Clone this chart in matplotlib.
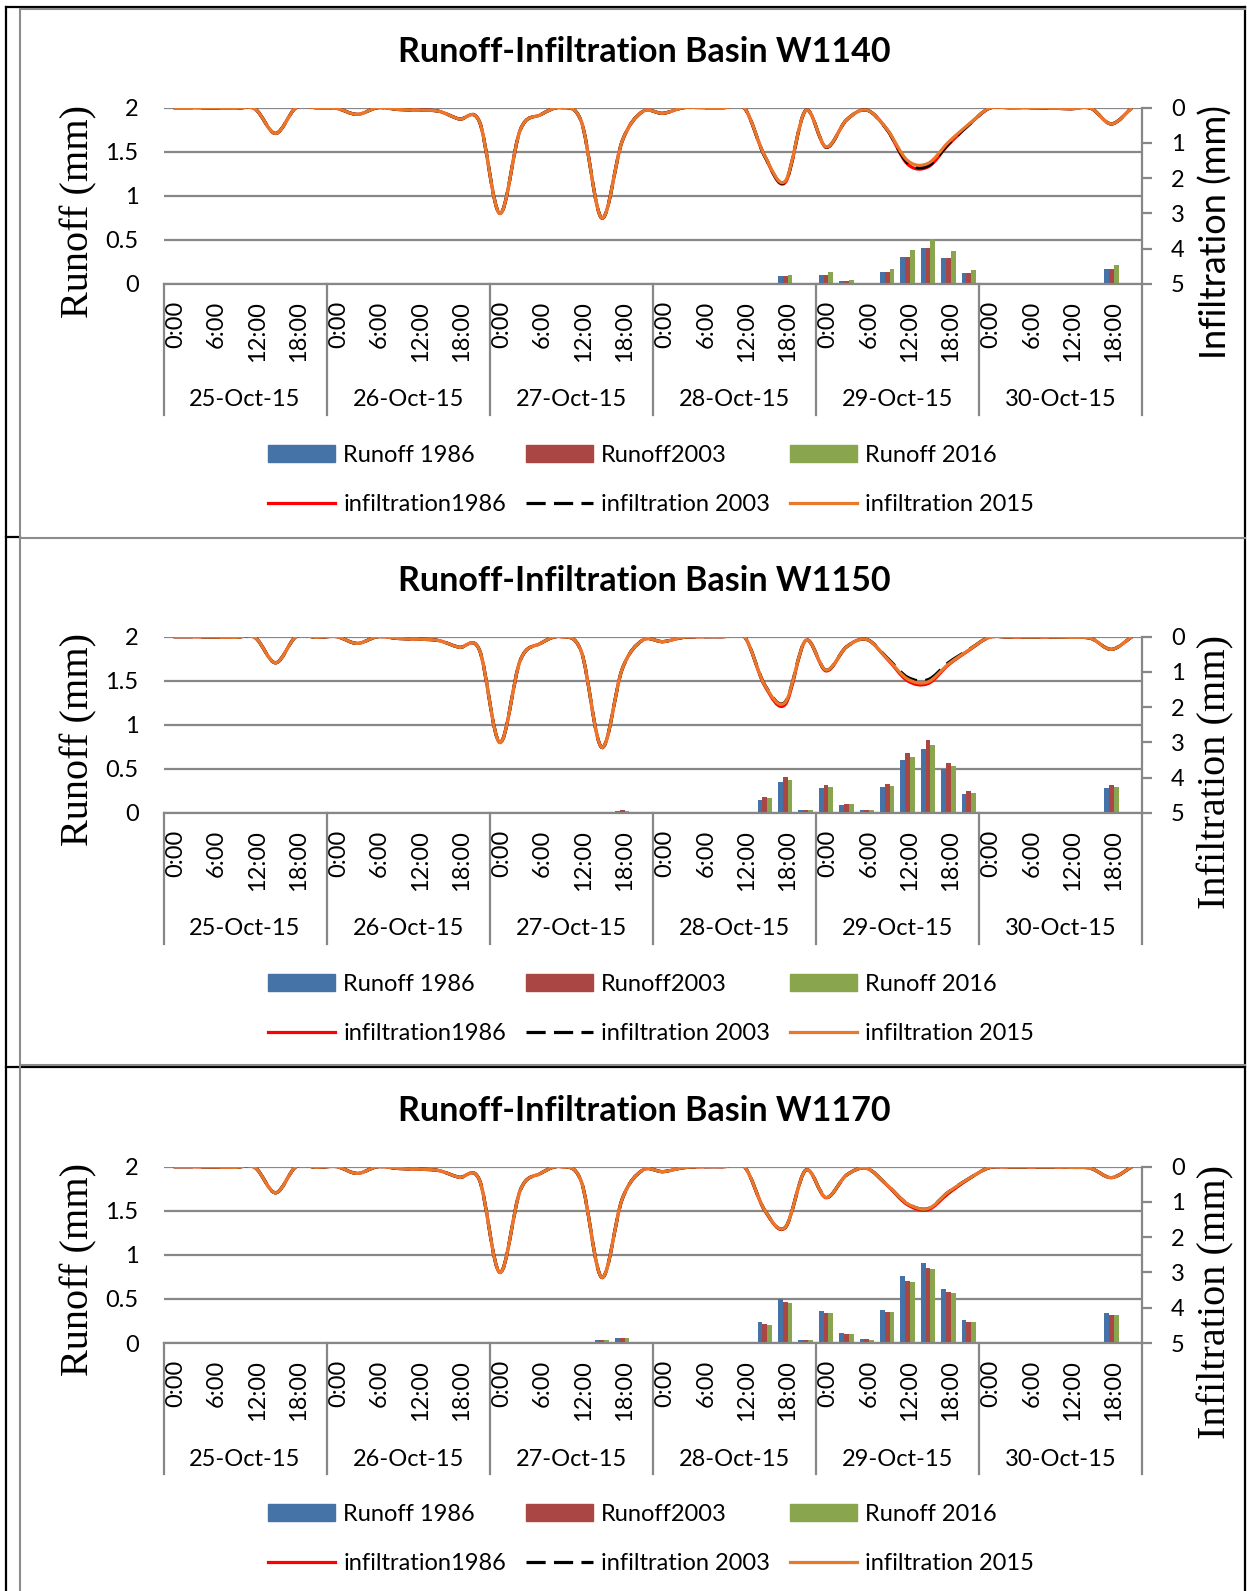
import numpy as np
import matplotlib
matplotlib.use("Agg")
import matplotlib.pyplot as plt
from matplotlib.lines import Line2D
from matplotlib.patches import Patch, PathPatch
from matplotlib.path import Path

plt.rcParams["font.family"] = ["Lato", "DejaVu Sans"]

W, H = 1247, 1591

DAYS = ["25-Oct-15", "26-Oct-15", "27-Oct-15", "28-Oct-15", "29-Oct-15", "30-Oct-15"]
HOURS = ["0:00", "6:00", "12:00", "18:00"]
BASINS = ["W1140", "W1150", "W1170"]

# infiltration (mm), 3-hourly, 8 values per day
W1140_INF_1986 = [0, 0, 0.01, 0.02, 0.04, 0.73, 0, 0,
                  0.02, 0.19, 0, 0.05, 0.07, 0.1, 0.32, 0.4,
                  3.0, 0.63, 0.2, 0, 0.4, 3.13, 0.95, 0.11,
                  0.16, 0, 0, 0, 0.01, 1.39, 2.12, 0.08,
                  1.12, 0.35, 0.07, 0.63, 1.6, 1.68, 1.05, 0.49,
                  0.02, 0, 0, 0.01, 0.03, 0.02, 0.46, 0]
W1140_INF_2003 = [0, 0, 0.01, 0.02, 0.04, 0.73, 0, 0,
                  0.02, 0.19, 0, 0.05, 0.07, 0.1, 0.32, 0.4,
                  3.0, 0.63, 0.2, 0, 0.4, 3.13, 0.95, 0.11,
                  0.16, 0, 0, 0, 0.01, 1.38, 2.1, 0.08,
                  1.12, 0.35, 0.07, 0.63, 1.56, 1.65, 1.03, 0.49,
                  0.02, 0, 0, 0.01, 0.03, 0.02, 0.46, 0]
W1140_INF_2015 = [0, 0, 0.01, 0.02, 0.04, 0.73, 0, 0,
                  0.02, 0.19, 0, 0.05, 0.07, 0.1, 0.32, 0.4,
                  3.0, 0.63, 0.2, 0, 0.4, 3.13, 0.95, 0.11,
                  0.16, 0, 0, 0, 0.01, 1.37, 2.08, 0.08,
                  1.11, 0.35, 0.07, 0.62, 1.5, 1.58, 0.98, 0.47,
                  0.02, 0, 0, 0.01, 0.03, 0.02, 0.46, 0]

W1150_INF_1986 = [0, 0, 0.01, 0.02, 0.03, 0.74, 0, 0.02,
                  0, 0.19, 0, 0.05, 0.07, 0.11, 0.3, 0.38,
                  3.0, 0.67, 0.19, 0, 0.43, 3.14, 0.92, 0.1,
                  0.14, 0.02, 0, 0, 0, 1.4, 1.92, 0.11,
                  0.97, 0.29, 0.08, 0.63, 1.25, 1.33, 0.8, 0.39,
                  0.02, 0.01, 0.01, 0.01, 0.02, 0.05, 0.36, 0]
W1150_INF_2003 = [0, 0, 0.01, 0.02, 0.03, 0.74, 0, 0.02,
                  0, 0.19, 0, 0.05, 0.07, 0.11, 0.3, 0.38,
                  3.0, 0.67, 0.19, 0, 0.43, 3.14, 0.92, 0.1,
                  0.14, 0.02, 0, 0, 0, 1.37, 1.85, 0.11,
                  0.95, 0.29, 0.08, 0.6, 1.15, 1.22, 0.74, 0.37,
                  0.02, 0.01, 0.01, 0.01, 0.02, 0.05, 0.36, 0]
W1150_INF_2015 = [0, 0, 0.01, 0.02, 0.03, 0.74, 0, 0.02,
                  0, 0.19, 0, 0.05, 0.07, 0.11, 0.3, 0.38,
                  3.0, 0.67, 0.19, 0, 0.43, 3.14, 0.92, 0.1,
                  0.14, 0.02, 0, 0, 0, 1.38, 1.86, 0.11,
                  0.95, 0.29, 0.08, 0.62, 1.2, 1.28, 0.78, 0.38,
                  0.02, 0.01, 0.01, 0.01, 0.02, 0.05, 0.36, 0]

W1170_INF_1986 = [0, 0, 0.01, 0.02, 0.03, 0.74, 0, 0.02,
                  0, 0.19, 0, 0.05, 0.07, 0.11, 0.3, 0.38,
                  3.0, 0.67, 0.19, 0, 0.43, 3.14, 0.92, 0.1,
                  0.14, 0.03, 0, 0, 0, 1.25, 1.73, 0.1,
                  0.88, 0.24, 0.05, 0.53, 1.08, 1.22, 0.76, 0.35,
                  0.03, 0.01, 0.01, 0.01, 0.02, 0.05, 0.31, 0]
W1170_INF_2003 = [0, 0, 0.01, 0.02, 0.03, 0.74, 0, 0.02,
                  0, 0.19, 0, 0.05, 0.07, 0.11, 0.3, 0.38,
                  3.0, 0.67, 0.19, 0, 0.43, 3.14, 0.92, 0.1,
                  0.14, 0.03, 0, 0, 0, 1.24, 1.72, 0.1,
                  0.87, 0.24, 0.05, 0.52, 1.05, 1.19, 0.72, 0.34,
                  0.03, 0.01, 0.01, 0.01, 0.02, 0.05, 0.31, 0]
W1170_INF_2015 = [0, 0, 0.01, 0.02, 0.03, 0.74, 0, 0.02,
                  0, 0.19, 0, 0.05, 0.07, 0.11, 0.3, 0.38,
                  3.0, 0.67, 0.19, 0, 0.43, 3.14, 0.92, 0.1,
                  0.14, 0.03, 0, 0, 0, 1.24, 1.72, 0.1,
                  0.87, 0.24, 0.05, 0.52, 1.05, 1.19, 0.72, 0.34,
                  0.03, 0.01, 0.01, 0.01, 0.02, 0.05, 0.31, 0]

# runoff (mm)
W1140_RUN_1986 = [0] * 30 + [0.086, 0.005, 0.105, 0.037, 0.015, 0.136, 0.31, 0.408,
                             0.30, 0.125, 0, 0, 0, 0, 0.003, 0, 0.17, 0]
W1140_RUN_2003 = [0] * 30 + [0.086, 0.005, 0.105, 0.037, 0.015, 0.136, 0.31, 0.408,
                             0.30, 0.125, 0, 0, 0, 0, 0.003, 0, 0.17, 0]
W1140_RUN_2016 = [0] * 30 + [0.105, 0.006, 0.136, 0.048, 0.015, 0.17, 0.39, 0.51,
                             0.37, 0.16, 0, 0, 0, 0, 0.004, 0, 0.21, 0]

W1150_RUN_1986 = [0] * 22 + [0.02, 0, 0, 0, 0, 0, 0, 0.145, 0.35, 0.03, 0.278, 0.088,
                             0.038, 0.293, 0.598, 0.731, 0.499, 0.217, 0, 0, 0, 0, 0.015, 0, 0.278, 0]
W1150_RUN_2003 = [0] * 22 + [0.035, 0, 0, 0, 0, 0, 0, 0.18, 0.41, 0.03, 0.32, 0.099,
                             0.038, 0.328, 0.678, 0.83, 0.568, 0.248, 0, 0, 0, 0, 0.015, 0, 0.312, 0]
W1150_RUN_2016 = [0] * 22 + [0.025, 0, 0, 0, 0, 0, 0, 0.168, 0.377, 0.03, 0.297, 0.099,
                             0.038, 0.309, 0.636, 0.777, 0.53, 0.229, 0, 0, 0, 0, 0.015, 0, 0.297, 0]

W1170_RUN_1986 = [0] * 21 + [0.03, 0.06, 0, 0.012, 0, 0, 0, 0, 0.238, 0.5, 0.03, 0.365, 0.115,
                             0.046, 0.377, 0.758, 0.908, 0.615, 0.265, 0, 0, 0, 0, 0.012, 0, 0.335, 0]
W1170_RUN_2003 = [0] * 21 + [0.03, 0.06, 0, 0.012, 0, 0, 0, 0, 0.219, 0.462, 0.03, 0.335, 0.104,
                             0.046, 0.35, 0.708, 0.854, 0.577, 0.242, 0, 0, 0, 0, 0.012, 0, 0.315, 0]
W1170_RUN_2016 = [0] * 21 + [0.03, 0.06, 0, 0.012, 0, 0, 0, 0, 0.208, 0.45, 0.03, 0.335, 0.104,
                             0.035, 0.35, 0.696, 0.842, 0.565, 0.242, 0, 0, 0, 0, 0.012, 0, 0.315, 0]

RUNOFF = [(W1140_RUN_1986, W1140_RUN_2003, W1140_RUN_2016),
          (W1150_RUN_1986, W1150_RUN_2003, W1150_RUN_2016),
          (W1170_RUN_1986, W1170_RUN_2003, W1170_RUN_2016)]
INFIL = [(W1140_INF_1986, W1140_INF_2003, W1140_INF_2015),
         (W1150_INF_1986, W1150_INF_2003, W1150_INF_2015),
         (W1170_INF_1986, W1170_INF_2003, W1170_INF_2015)]

BAR_COLORS = ["#4572A7", "#AA4643", "#89A54E"]
LINE_COLORS = ["#FF0000", "#000000", "#E9782A"]
GRAY = "#878787"
OFFSETS = [0, 529, 1059]


def fx(x):
    return x / W


def fy(y):
    return 1 - y / H


def smooth_path(xs, ys):
    # Excel-style smoothed line: cubic Bezier through the points
    n = len(xs)
    verts = [(xs[0], ys[0])]
    codes = [Path.MOVETO]
    for i in range(n - 1):
        a = max(i - 1, 0)
        b = min(i + 2, n - 1)
        c1 = (xs[i] + (xs[i + 1] - xs[a]) / 6, ys[i] + (ys[i + 1] - ys[a]) / 6)
        c2 = (xs[i + 1] - (xs[b] - xs[i]) / 6, ys[i + 1] - (ys[b] - ys[i]) / 6)
        verts += [c1, c2, (xs[i + 1], ys[i + 1])]
        codes += [Path.CURVE4] * 3
    return Path(verts, codes)


fig = plt.figure(figsize=(W / 100, H / 100), dpi=100)

x = np.arange(48)
bw = 0.235

for k, basin in enumerate(BASINS):
    off = OFFSETS[k]
    ax = fig.add_axes([fx(163.5), fy(284 + off), fx(1142) - fx(163.5), (284 - 107.7) / H])

    for j, series in enumerate(RUNOFF[k]):
        ax.bar(x + (j - 1) * bw, series, bw, color=BAR_COLORS[j], zorder=2)

    ax.set_xlim(-0.5, 47.5)
    ax.set_ylim(0, 2)
    ax.set_yticks([0, 0.5, 1, 1.5, 2])
    ax.set_yticklabels(["0", "0.5", "1", "1.5", "2"])
    ax.grid(axis="y", color=GRAY, lw=1.6)
    ax.set_axisbelow(True)
    for s in ["top", "left", "right"]:
        ax.spines[s].set_visible(False)
    ax.spines["bottom"].set_color(GRAY)
    ax.spines["bottom"].set_linewidth(1.6)
    ax.tick_params(axis="y", length=0, pad=18, labelsize=17)
    ax.set_xticks(x[::2] + 0.1)
    ax.set_xticklabels(HOURS * 6, rotation=90)
    ax.tick_params(axis="x", length=0, pad=12, labelsize=17)

    # day separators and day labels under the hour labels
    trans = ax.get_xaxis_transform()
    for d in range(7):
        ax.plot([8 * d - 0.5] * 2, [0, -131 / 176.3], color=GRAY, lw=1.6,
                transform=trans, clip_on=False)
    for d, day in enumerate(DAYS):
        ax.text(8 * d + 3.5, -116 / 176.3, day, transform=trans,
                ha="center", va="center", fontsize=17)

    ax2 = ax.twinx()
    ax2.set_ylim(5, 0)
    ax2.set_yticks(range(6))
    for s in ["top", "left", "bottom"]:
        ax2.spines[s].set_visible(False)
    ax2.spines["right"].set_color(GRAY)
    ax2.spines["right"].set_linewidth(1.6)
    ax2.tick_params(axis="y", length=7, width=1.6, color=GRAY, pad=14, labelsize=17)

    styles = ["-", (0, (6, 2.6)), "-"]
    for j, series in enumerate(INFIL[k]):
        patch = PathPatch(smooth_path(x, series), fill=False, edgecolor=LINE_COLORS[j],
                          lw=2.3, linestyle=styles[j], zorder=3 + j)
        ax2.add_patch(patch)

    fig.text(fx(644), fy(52 + off), f"Runoff-Infiltration Basin {basin}",
             ha="center", va="center", fontsize=24.5, fontweight="bold")
    fig.text(fx(79), fy(211 + off), "Runoff (mm)", rotation=90, ha="center",
             va="center", fontsize=29, family="Liberation Serif")
    if k == 0:
        fig.text(fx(1216), fy(232 + off), "Infiltration (mm)", rotation=90,
                 ha="center", va="center", fontsize=26)
    else:
        fig.text(fx(1216), fy(243 + off), "Infiltration (mm)", rotation=90,
                 ha="center", va="center", fontsize=29, family="Liberation Serif")

    handles = [Patch(color=BAR_COLORS[0]), Line2D([], [], color=LINE_COLORS[0], lw=2.3),
               Patch(color=BAR_COLORS[1]), Line2D([], [], color=LINE_COLORS[1], lw=2.3,
                                                  linestyle=styles[1]),
               Patch(color=BAR_COLORS[2]), Line2D([], [], color=LINE_COLORS[2], lw=2.3)]
    labels = ["Runoff 1986", "infiltration1986", "Runoff2003", "infiltration 2003",
              "Runoff 2016", "infiltration 2015"]
    fig.legend(handles, labels, ncol=3, loc="center", bbox_to_anchor=(fx(651), fy(480 + off)),
               frameon=False, fontsize=17, handlelength=2.85, handletextpad=0.35,
               columnspacing=0.82, labelspacing=1.2, borderpad=0, borderaxespad=0)

# page frame (table borders and chart borders)
black = dict(color="black", lw=1.6, transform=fig.transFigure)
gray = dict(color="#8c8c8c", lw=1.5, transform=fig.transFigure)
fig.add_artist(Line2D([fx(6), fx(6)], [fy(7), fy(H)], **black))
fig.add_artist(Line2D([fx(1245), fx(1245)], [fy(7), fy(H)], **black))
fig.add_artist(Line2D([fx(6), fx(1245)], [fy(7), fy(7)], **black))
fig.add_artist(Line2D([fx(6), fx(1245)], [fy(1066.5), fy(1066.5)], **black))
fig.add_artist(Line2D([fx(6), fx(20)], [fy(537), fy(537)], **black))
fig.add_artist(Line2D([fx(20), fx(20)], [fy(9), fy(H)], **gray))
fig.add_artist(Line2D([fx(20), fx(1245)], [fy(9), fy(9)], **gray))
fig.add_artist(Line2D([fx(20), fx(1245)], [fy(537.7), fy(537.7)], **gray))
fig.add_artist(Line2D([fx(20), fx(1245)], [fy(1064.5), fy(1064.5)], **gray))

fig.savefig("out.png", dpi=100)
